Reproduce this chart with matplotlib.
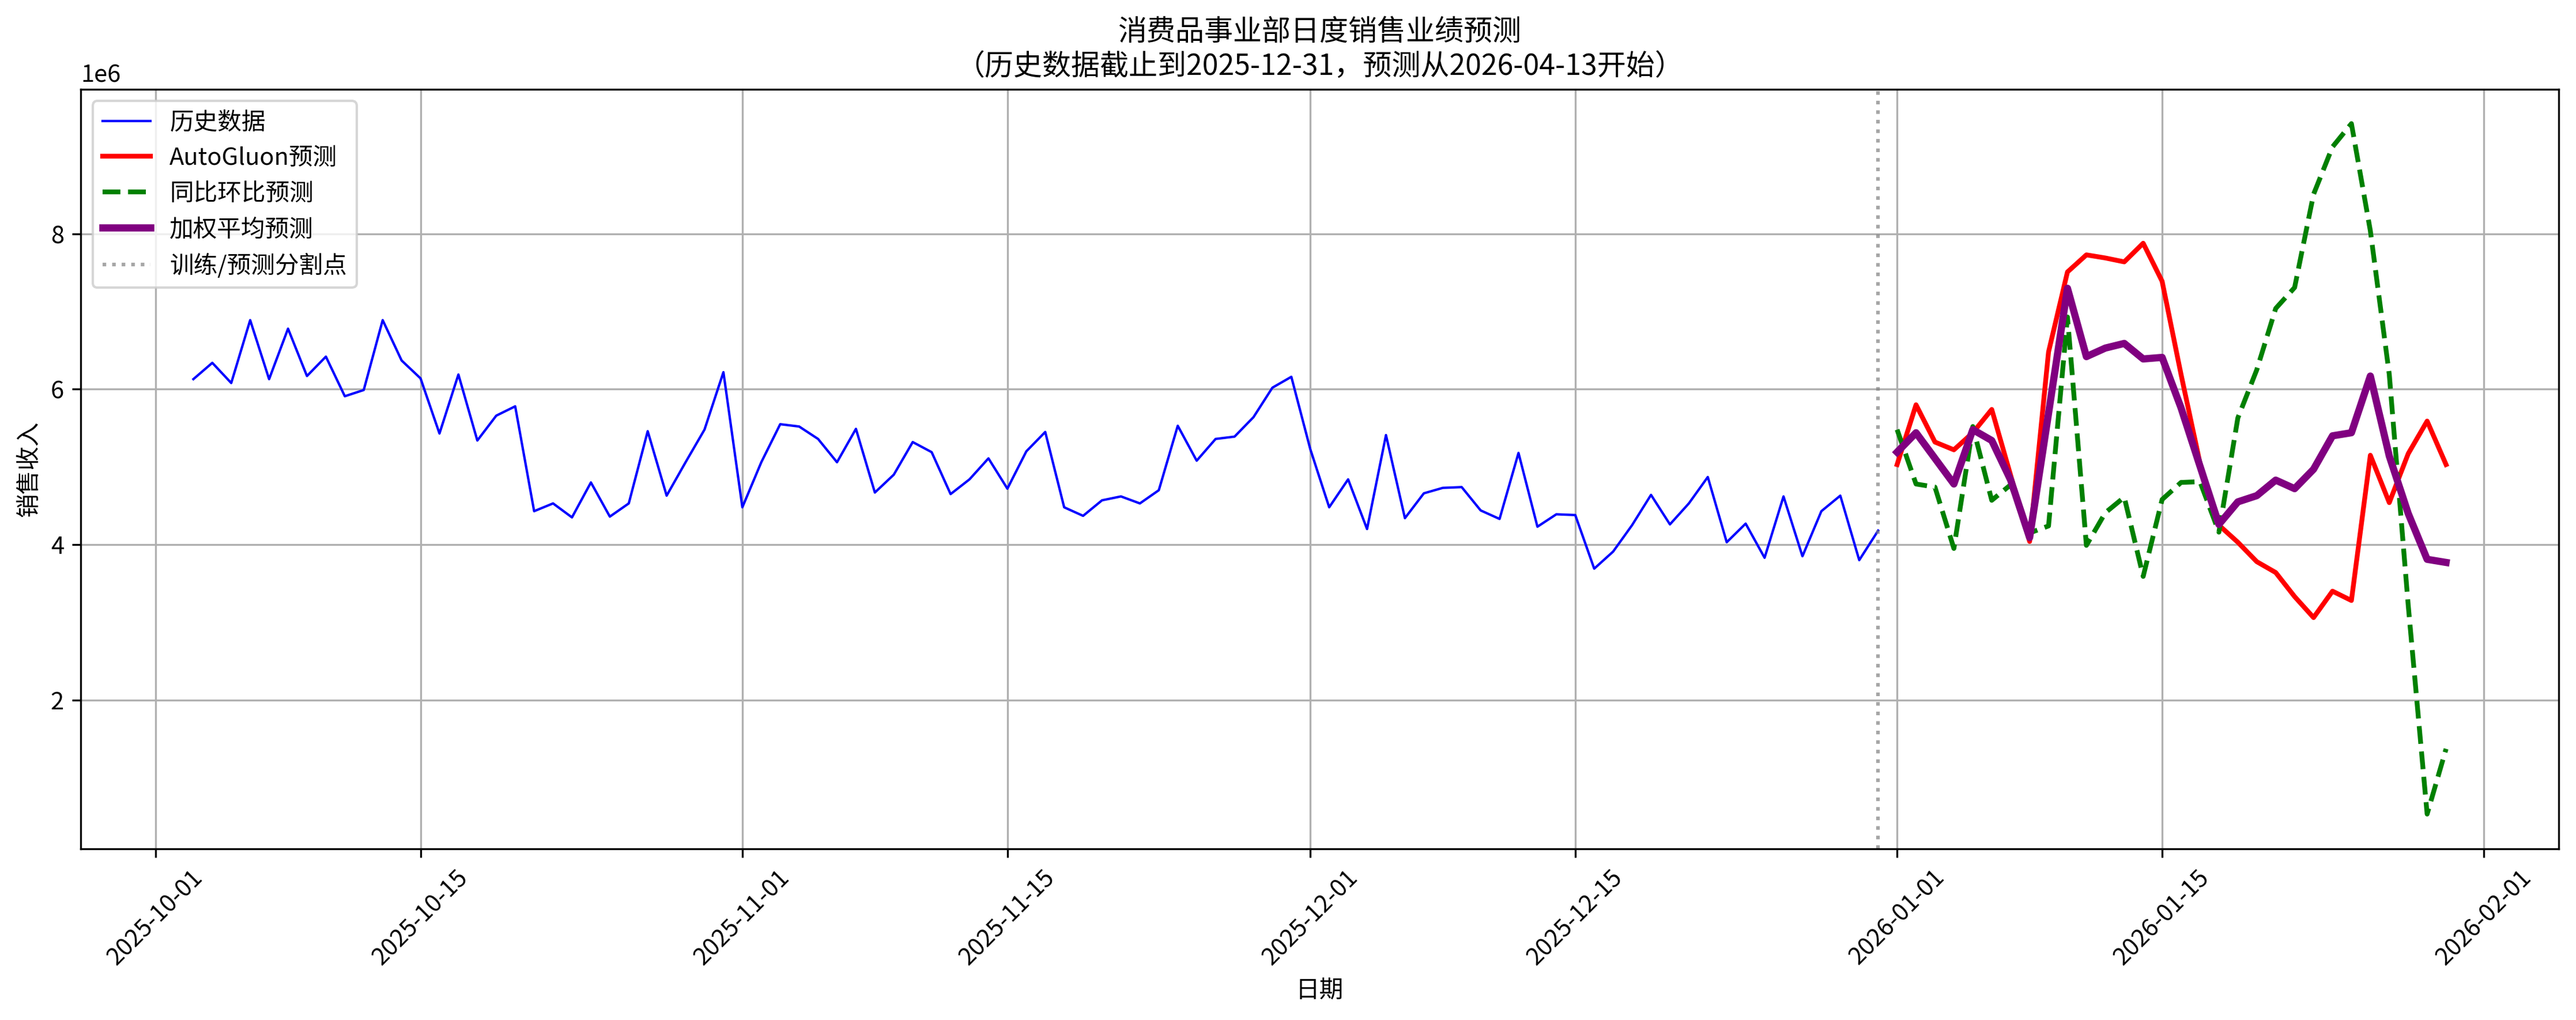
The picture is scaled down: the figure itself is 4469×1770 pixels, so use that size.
import numpy as np
import pandas as pd
import matplotlib
matplotlib.use("Agg")
import matplotlib.pyplot as plt

plt.rcParams['font.family'] = ['Noto Sans CJK SC', 'DejaVu Sans']
plt.rcParams['axes.unicode_minus'] = False

# 历史数据 2025-10-03 ~ 2025-12-31 (单位: 1e6)
hist_start = "2025-10-03"
hist_values = [
    6.13, 6.34, 6.08, 6.89, 6.13, 6.78, 6.17, 6.42, 5.91, 5.99,
    6.89, 6.37, 6.14, 5.43, 6.19, 5.34, 5.66, 5.78, 4.43, 4.53,
    4.35, 4.80, 4.36, 4.53, 5.46, 4.63, 5.06, 5.48, 6.22,
    4.48, 5.06, 5.55, 5.52, 5.36, 5.06, 5.49, 4.67, 4.90, 5.32,
    5.19, 4.65, 4.84, 5.11, 4.72, 5.20, 5.45, 4.48, 4.37, 4.57,
    4.62, 4.53, 4.70, 5.53, 5.08, 5.36, 5.39, 5.64, 6.02, 6.16,
    5.23, 4.48, 4.84, 4.20, 5.41, 4.34, 4.66, 4.73, 4.74, 4.44,
    4.33, 5.18, 4.23, 4.39, 4.38, 3.69, 3.91, 4.25, 4.64, 4.26,
    4.53, 4.87, 4.03, 4.27, 3.83, 4.62, 3.85, 4.43, 4.63, 3.80,
    4.18,
]

# 预测 2026-01-01 ~ 2026-01-30 (单位: 1e6)
fc_start = "2026-01-01"
autogluon_values = [
    5.03, 5.80, 5.32, 5.22, 5.44, 5.74, 4.89, 4.04, 6.48, 7.51,
    7.73, 7.69, 7.64, 7.88, 7.39, 6.19, 5.05, 4.25, 4.03, 3.78,
    3.64, 3.33, 3.06, 3.40, 3.28, 5.15, 4.54, 5.17, 5.59, 5.03,
]
yoy_mom_values = [
    5.48, 4.78, 4.74, 3.95, 5.52, 4.57, 4.77, 4.15, 4.24, 6.93,
    3.99, 4.41, 4.61, 3.59, 4.58, 4.80, 4.81, 4.16, 5.63, 6.25,
    7.04, 7.31, 8.51, 9.12, 9.42, 8.04, 6.19, 3.22, 0.53, 1.37,
]
weighted_values = [
    5.19, 5.44, 5.11, 4.78, 5.48, 5.34, 4.83, 4.09, 5.69, 7.30,
    6.42, 6.53, 6.59, 6.39, 6.41, 5.76, 5.01, 4.26, 4.55, 4.63,
    4.83, 4.72, 4.97, 5.40, 5.44, 6.17, 5.14, 4.40, 3.81, 3.77,
]
split_date = "2025-12-31"

hist_dates = pd.date_range(hist_start, periods=len(hist_values), freq="D")
fc_dates = pd.date_range(fc_start, periods=len(autogluon_values), freq="D")

plt.figure(figsize=(15, 6))
plt.plot(hist_dates, np.array(hist_values) * 1e6, color="blue", linewidth=1, label="历史数据")
plt.plot(fc_dates, np.array(autogluon_values) * 1e6, color="red", linewidth=2, label="AutoGluon预测")
plt.plot(fc_dates, np.array(yoy_mom_values) * 1e6, color="green", linestyle="--", linewidth=2, label="同比环比预测")
plt.plot(fc_dates, np.array(weighted_values) * 1e6, color="purple", linewidth=3, label="加权平均预测")
plt.axvline(pd.Timestamp(split_date), color="gray", linestyle=":", alpha=0.7, label="训练/预测分割点")

plt.title("消费品事业部日度销售业绩预测\n（历史数据截止到2025-12-31，预测从2026-04-13开始）")
plt.xlabel("日期")
plt.ylabel("销售收入")
plt.legend(loc="upper left")
plt.grid(True)
plt.xticks(rotation=45)
plt.tight_layout()
plt.savefig("out.png", dpi=300, bbox_inches="tight")
